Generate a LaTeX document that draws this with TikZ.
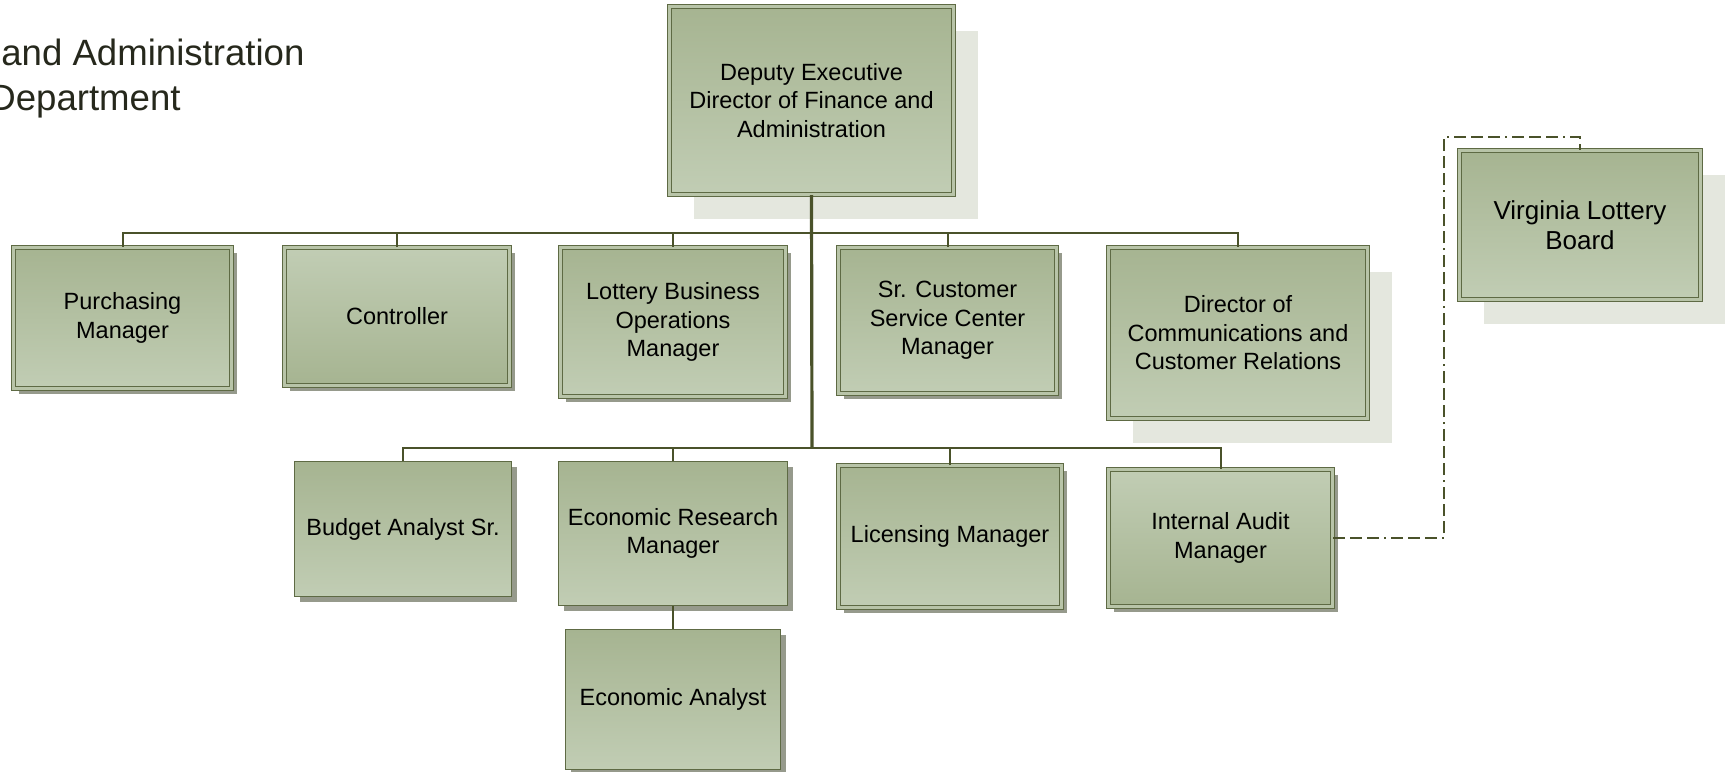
\documentclass[tikz,border=0pt]{standalone}
\usepackage{fontspec}
\setmainfont{Liberation Sans}
\usetikzlibrary{shadows}
\definecolor{olivedark}{RGB}{166,180,145}
\definecolor{olivelight}{RGB}{193,205,180}
\definecolor{oliveband}{RGB}{184,196,168}
\definecolor{oliveline}{RGB}{94,106,68}
\definecolor{olivewire}{RGB}{74,82,42}
\definecolor{shadegray}{RGB}{150,154,140}
\definecolor{shadepale}{RGB}{228,231,222}
\definecolor{titleink}{RGB}{38,40,28}

\begin{document}
\begin{tikzpicture}[x=0.5pt, y=-0.5pt,
    postbox/.style={draw=oliveline, line width=0.5pt, top color=olivedark, bottom color=olivelight,
        align=center, inner sep=2pt, font=\fontsize{11.75}{14.25}\selectfont},
    lightup/.style={top color=olivelight, bottom color=olivedark},
    twoline/.style={double=oliveband, double distance=1.5pt},
    lowshade/.style={general shadow={fill=shadegray, shadow xshift=2.6pt, shadow yshift=-2.6pt}},
    wideshade/.style={general shadow={fill=shadepale, shadow xshift=12pt, shadow yshift=-12pt}},
    wire/.style={olivewire, line width=1pt},
    trunk/.style={olivewire, line width=1.6pt},
    boardlink/.style={olivewire, line width=1.2pt, dash pattern=on 6pt off 2.5pt on 6pt off 2.5pt on 6pt off 2.5pt on 1pt off 2.5pt}]
        \useasboundingbox (0,0) rectangle (1733,771);
        % title
        \node[titleink, anchor=base west, inner sep=0pt, font=\fontsize{18.3}{22.5}\selectfont] (titletop) at (1,65) {and Administration};
        \node[titleink, anchor=base west, inner sep=0pt, font=\fontsize{18.3}{22.5}\selectfont] (titlebot) at (-11,110) {Department};
        % boxes
        \node[postbox, twoline, wideshade, minimum width=142pt, minimum height=94pt] (dfa) at (811.5,100.5) {Deputy Executive\\Director of Finance and\\Administration};
        \node[postbox, twoline, lowshade, minimum width=109pt, minimum height=70.5pt] (purch) at (122.5,318) {Purchasing\\Manager};
        \node[postbox, twoline, lowshade, lightup, minimum width=112.5pt, minimum height=69pt] (ctrl) at (397,316.5) {Controller};
        \node[postbox, twoline, lowshade, minimum width=112.5pt, minimum height=74.5pt] (lobo) at (673,322) {Lottery Business\\Operations\\Manager};
        \node[postbox, twoline, lowshade, minimum width=109pt, minimum height=73pt] (srcs) at (947.5,320.5) {Sr. Customer\\Service Center\\Manager};
        \node[postbox, twoline, wideshade, minimum width=129.5pt, minimum height=85.5pt] (dccr) at (1238,333) {Director of\\Communications and\\Customer Relations};
        \node[postbox, lowshade, minimum width=108.5pt, minimum height=67.5pt] (budget) at (403,529) {Budget Analyst Sr.};
        \node[postbox, lowshade, minimum width=114.5pt, minimum height=72pt] (econres) at (673,533.5) {Economic Research\\Manager};
        \node[postbox, lowshade, minimum width=107.5pt, minimum height=70pt] (econan) at (673,699.5) {Economic Analyst};
        \node[postbox, twoline, lowshade, minimum width=111.5pt, minimum height=71pt] (lic) at (950,536.5) {Licensing Manager};
        \node[postbox, twoline, lowshade, lightup, minimum width=112pt, minimum height=68.5pt] (audit) at (1220.5,538) {Internal Audit\\Manager};
        \node[postbox, twoline, wideshade, minimum width=120.5pt, minimum height=74.5pt, font=\fontsize{13}{15}\selectfont] (vlb) at (1580,225) {Virginia Lottery\\Board};
        % connectors
        \coordinate (upbus) at (812,233);
        \coordinate (lowbus) at (812,448);
        \coordinate (boardbend) at (1444,137);
        \draw[trunk] (dfa.south) -- (lowbus);
        \draw[wire] (purch.north) |- (upbus) -| (dccr.north);
        \foreach \kid in {ctrl,lobo,srcs}
            \draw[wire] (\kid.north) -- (\kid.north |- upbus);
        \draw[wire] (budget.north) |- (lowbus) -| (audit.north);
        \foreach \kid in {econres,lic}
            \draw[wire] (\kid.north) -- (\kid.north |- lowbus);
        \draw[wire] (econres.south) -- (econan.north);
        \draw[boardlink] (audit.east) -| (boardbend) -| (vlb.north);
    \end{tikzpicture}
\end{document}
